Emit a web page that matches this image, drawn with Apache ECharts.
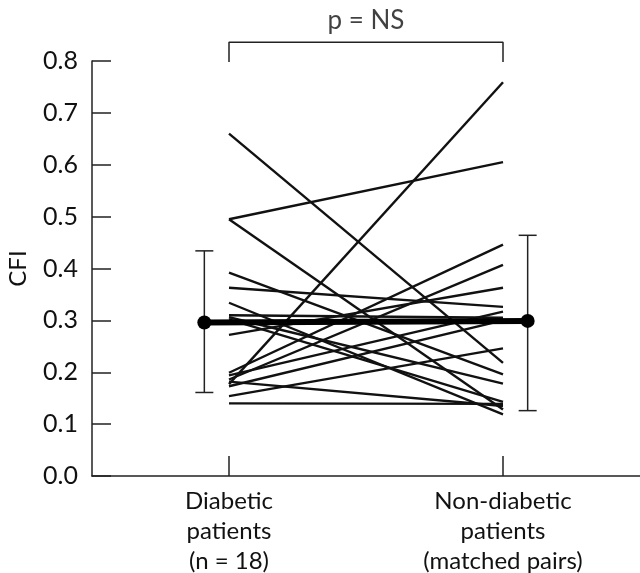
<!DOCTYPE html>
<html>
<head>
<meta charset="utf-8">
<script src="https://cdn.jsdelivr.net/npm/echarts@6/dist/echarts.min.js"></script>
<style>
  html, body { margin: 0; padding: 0; background: #fff; }
  #chart { width: 640px; height: 573px; }
</style>
</head>
<body>
<div id="chart"></div>
<script>
// group positions on the x axis
const groupPos = [1, 3];
const groupLabels = ["Diabetic\npatients\n(n = 18)", "Non-diabetic\npatients\n(matched pairs)"];
const yTicks = [0, 0.1, 0.2, 0.3, 0.4, 0.5, 0.6, 0.7, 0.8];

// paired CFI values
const diabetic =    [0.660, 0.495, 0.495, 0.392, 0.363, 0.334, 0.310, 0.306, 0.302,
                     0.272, 0.199, 0.194, 0.186, 0.177, 0.173, 0.154, 0.182, 0.140];
const nonDiabetic = [0.218, 0.605, 0.128, 0.196, 0.326, 0.119, 0.305, 0.178, 0.143,
                     0.363, 0.446, 0.317, 0.407, 0.759, 0.300, 0.246, 0.135, 0.139];

// mean +/- SD, drawn a bit outside each group
const meanPos = [0.82, 3.18];
const means = [0.296, 0.299];
const sdLow = [0.161, 0.126];
const sdHigh = [0.434, 0.464];

// significance bracket
const bracketX = [1, 1, 3, 3];
const bracketY = [0.798, 0.836, 0.836, 0.798];
const pText = "p = NS";

const FONT = "Lato, 'DejaVu Sans', sans-serif";
const myChart = echarts.init(document.getElementById("chart"), null, { renderer: "canvas" });

const pairSeries = diabetic.map(function (d, i) {
  return {
    type: "line",
    data: [[groupPos[0], d], [groupPos[1], nonDiabetic[i]]],
    symbol: "none",
    lineStyle: { color: "#111", width: 2.4 },
    silent: true,
    z: 3
  };
});

const option = {
  animation: false,
  grid: { left: 92, right: 0, top: 61, bottom: 97, containLabel: false, outerBoundsMode: "none" },
  xAxis: {
    type: "value",
    min: 0,
    max: 4,
    splitLine: { show: false },
    axisLine: { lineStyle: { color: "#222", width: 1.5 } },
    axisTick: { inside: true, length: 20, customValues: groupPos, lineStyle: { color: "#222", width: 1.5 } },
    axisLabel: {
      customValues: groupPos,
      margin: 10,
      color: "#111",
      fontFamily: FONT,
      fontSize: 24,
      lineHeight: 30,
      formatter: function (v) {
        const i = groupPos.indexOf(v);
        return i >= 0 ? groupLabels[i] : "";
      }
    }
  },
  yAxis: {
    type: "value",
    min: 0,
    max: 0.8,
    interval: 0.1,
    name: "CFI",
    nameLocation: "middle",
    nameGap: 62,
    nameTextStyle: { color: "#111", fontFamily: FONT, fontSize: 24 },
    splitLine: { show: false },
    axisLine: { show: true, lineStyle: { color: "#222", width: 1.5 } },
    axisTick: { show: true, inside: true, length: 19, lineStyle: { color: "#222", width: 1.5 } },
    axisLabel: {
      margin: 14,
      color: "#111",
      fontFamily: FONT,
      fontSize: 25,
      formatter: function (v) { return v.toFixed(1); }
    }
  },
  series: pairSeries.concat([
    {
      // SD error bars
      type: "custom",
      silent: true,
      z: 4,
      data: meanPos.map(function (x, i) { return [x, sdLow[i], sdHigh[i]]; }),
      renderItem: function (params, api) {
        const lo = api.coord([api.value(0), api.value(1)]);
        const hi = api.coord([api.value(0), api.value(2)]);
        const cap = 9;
        const style = { stroke: "#222", lineWidth: 1.5 };
        return {
          type: "group",
          children: [
            { type: "line", shape: { x1: lo[0], y1: lo[1], x2: hi[0], y2: hi[1] }, style: style },
            { type: "line", shape: { x1: lo[0] - cap, y1: lo[1], x2: lo[0] + cap, y2: lo[1] }, style: style },
            { type: "line", shape: { x1: hi[0] - cap, y1: hi[1], x2: hi[0] + cap, y2: hi[1] }, style: style }
          ]
        };
      }
    },
    {
      // mean line
      type: "line",
      data: meanPos.map(function (x, i) { return [x, means[i]]; }),
      symbol: "circle",
      symbolSize: 14,
      itemStyle: { color: "#000" },
      lineStyle: { color: "#000", width: 6 },
      silent: true,
      z: 5
    },
    {
      // bracket
      type: "line",
      data: bracketX.map(function (x, i) { return [x, bracketY[i]]; }),
      symbol: "none",
      clip: false,
      lineStyle: { color: "#222", width: 1.5 },
      silent: true
    },
    {
      // p value text
      type: "scatter",
      data: [[(groupPos[0] + groupPos[1]) / 2, bracketY[1]]],
      symbolSize: 0,
      clip: false,
      silent: true,
      label: {
        show: true,
        position: "top",
        distance: 9,
        formatter: pText,
        color: "#111",
        fontFamily: FONT,
        fontSize: 26
      }
    }
  ])
};

myChart.setOption(option);
</script>
</body>
</html>
